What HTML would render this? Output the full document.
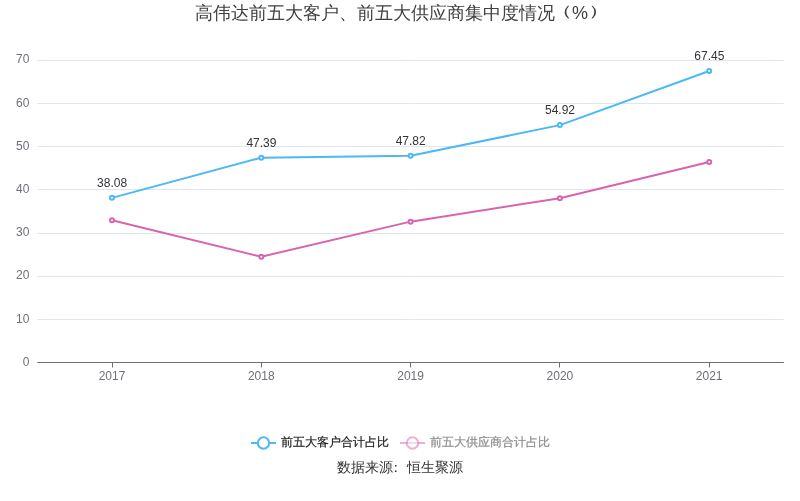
<!DOCTYPE html>
<html lang="zh-CN"><head><meta charset="utf-8"><title>高伟达前五大客户、前五大供应商集中度情况（%）</title>
<style>html,body{margin:0;padding:0;background:#fff}body{width:800px;height:501px;overflow:hidden}svg{display:block}text{font-family:'Liberation Sans','WenQuanYi Zen Hei',sans-serif}</style></head><body>
<svg width="800" height="501" viewBox="0 0 800 501">
<rect width="800" height="501" fill="#fff"/>
<text x="195" y="18.5" font-size="18" fill="#404040">高伟达前五大客户、前五大供应商集中度情况</text>
<text transform="translate(549.7,16.3) scale(1.53,1)" x="0" y="0" font-size="15" fill="#404040" font-family="NanumGothic,sans-serif">（</text>
<text x="580" y="18.5" text-anchor="middle" font-size="18" fill="#404040">%</text>
<text transform="translate(587.9,16.3) scale(1.53,1)" x="0" y="0" font-size="15" fill="#404040" font-family="NanumGothic,sans-serif">）</text>
<line x1="37.35" x2="783.85" y1="319.5" y2="319.5" stroke="#E0E6F1" stroke-width="1"/>
<line x1="37.35" x2="783.85" y1="276.5" y2="276.5" stroke="#E0E6F1" stroke-width="1"/>
<line x1="37.35" x2="783.85" y1="233.5" y2="233.5" stroke="#E0E6F1" stroke-width="1"/>
<line x1="37.35" x2="783.85" y1="189.5" y2="189.5" stroke="#E0E6F1" stroke-width="1"/>
<line x1="37.35" x2="783.85" y1="146.5" y2="146.5" stroke="#E0E6F1" stroke-width="1"/>
<line x1="37.35" x2="783.85" y1="103.5" y2="103.5" stroke="#E0E6F1" stroke-width="1"/>
<line x1="37.35" x2="783.85" y1="60.5" y2="60.5" stroke="#E0E6F1" stroke-width="1"/>
<line x1="410.5" x2="410.5" y1="60" y2="362" stroke="#fff" stroke-opacity="0.45" stroke-width="1"/>
<text x="29.35" y="365.90" text-anchor="end" font-size="12" fill="#6E7079">0</text>
<text x="29.35" y="322.90" text-anchor="end" font-size="12" fill="#6E7079">10</text>
<text x="29.35" y="278.90" text-anchor="end" font-size="12" fill="#6E7079">20</text>
<text x="29.35" y="235.90" text-anchor="end" font-size="12" fill="#6E7079">30</text>
<text x="29.35" y="192.90" text-anchor="end" font-size="12" fill="#6E7079">40</text>
<text x="29.35" y="149.90" text-anchor="end" font-size="12" fill="#6E7079">50</text>
<text x="29.35" y="106.90" text-anchor="end" font-size="12" fill="#6E7079">60</text>
<text x="29.35" y="62.90" text-anchor="end" font-size="12" fill="#6E7079">70</text>
<line x1="37.35" x2="783.85" y1="362.5" y2="362.5" stroke="#6E7079" stroke-width="1"/>
<line x1="112.5" x2="112.5" y1="362" y2="367.5" stroke="#6E7079" stroke-width="1"/>
<text x="112.00" y="379.8" text-anchor="middle" font-size="12" fill="#6E7079">2017</text>
<line x1="261.5" x2="261.5" y1="362" y2="367.5" stroke="#6E7079" stroke-width="1"/>
<text x="261.30" y="379.8" text-anchor="middle" font-size="12" fill="#6E7079">2018</text>
<line x1="410.5" x2="410.5" y1="362" y2="367.5" stroke="#6E7079" stroke-width="1"/>
<text x="410.60" y="379.8" text-anchor="middle" font-size="12" fill="#6E7079">2019</text>
<line x1="559.5" x2="559.5" y1="362" y2="367.5" stroke="#6E7079" stroke-width="1"/>
<text x="559.90" y="379.8" text-anchor="middle" font-size="12" fill="#6E7079">2020</text>
<line x1="709.5" x2="709.5" y1="362" y2="367.5" stroke="#6E7079" stroke-width="1"/>
<text x="709.20" y="379.8" text-anchor="middle" font-size="12" fill="#6E7079">2021</text>
<polyline points="112.00,220.22 261.30,256.71 410.60,221.64 559.90,198.19 709.20,162.09" fill="none" stroke="#d864b0" stroke-width="2" stroke-linejoin="bevel"/>
<circle cx="112.00" cy="220.22" r="2" fill="#fff" stroke="#d864b0" stroke-width="2"/>
<circle cx="261.30" cy="256.71" r="2" fill="#fff" stroke="#d864b0" stroke-width="2"/>
<circle cx="410.60" cy="221.64" r="2" fill="#fff" stroke="#d864b0" stroke-width="2"/>
<circle cx="559.90" cy="198.19" r="2" fill="#fff" stroke="#d864b0" stroke-width="2"/>
<circle cx="709.20" cy="162.09" r="2" fill="#fff" stroke="#d864b0" stroke-width="2"/>
<polyline points="112.00,197.85 261.30,157.64 410.60,155.79 559.90,125.12 709.20,71.01" fill="none" stroke="#4cb8f5" stroke-width="2" stroke-linejoin="bevel"/>
<circle cx="112.00" cy="197.85" r="2" fill="#fff" stroke="#4cb8f5" stroke-width="2"/>
<text x="112.10" y="186.90" text-anchor="middle" font-size="12" fill="#333">38.08</text>
<circle cx="261.30" cy="157.64" r="2" fill="#fff" stroke="#4cb8f5" stroke-width="2"/>
<text x="261.40" y="146.90" text-anchor="middle" font-size="12" fill="#333">47.39</text>
<circle cx="410.60" cy="155.79" r="2" fill="#fff" stroke="#4cb8f5" stroke-width="2"/>
<text x="410.70" y="144.90" text-anchor="middle" font-size="12" fill="#333">47.82</text>
<circle cx="559.90" cy="125.12" r="2" fill="#fff" stroke="#4cb8f5" stroke-width="2"/>
<text x="560.00" y="113.90" text-anchor="middle" font-size="12" fill="#333">54.92</text>
<circle cx="709.20" cy="71.01" r="2" fill="#fff" stroke="#4cb8f5" stroke-width="2"/>
<text x="709.30" y="59.90" text-anchor="middle" font-size="12" fill="#333">67.45</text>
<g>
<line x1="251.0" x2="276.0" y1="443" y2="443" stroke="#4cb8f5" stroke-width="2" stroke-opacity="1"/>
<circle cx="263.5" cy="443" r="5.7" fill="#fff" fill-opacity="1" stroke="#4cb8f5" stroke-opacity="1" stroke-width="2"/>
<text x="281.0" y="446.0" font-size="12" fill="#222" stroke="#222" stroke-width="0.22">前五大客户合计占比</text>
</g>
<g>
<line x1="400.0" x2="425.0" y1="443" y2="443" stroke="#d864b0" stroke-width="2" stroke-opacity="0.5"/>
<circle cx="412.5" cy="443" r="5.7" fill="#fff" fill-opacity="0.5" stroke="#d864b0" stroke-opacity="0.5" stroke-width="2"/>
<text x="430.0" y="446.0" font-size="12" fill="#8e8e8e" stroke="#8e8e8e" stroke-width="0.22">前五大供应商合计占比</text>
</g>
<text x="337" y="472.1" font-size="14" fill="#333">数据来源<tspan dx="-4.3">：</tspan><tspan dx="4.3">恒生聚源</tspan></text>
</svg></body></html>
